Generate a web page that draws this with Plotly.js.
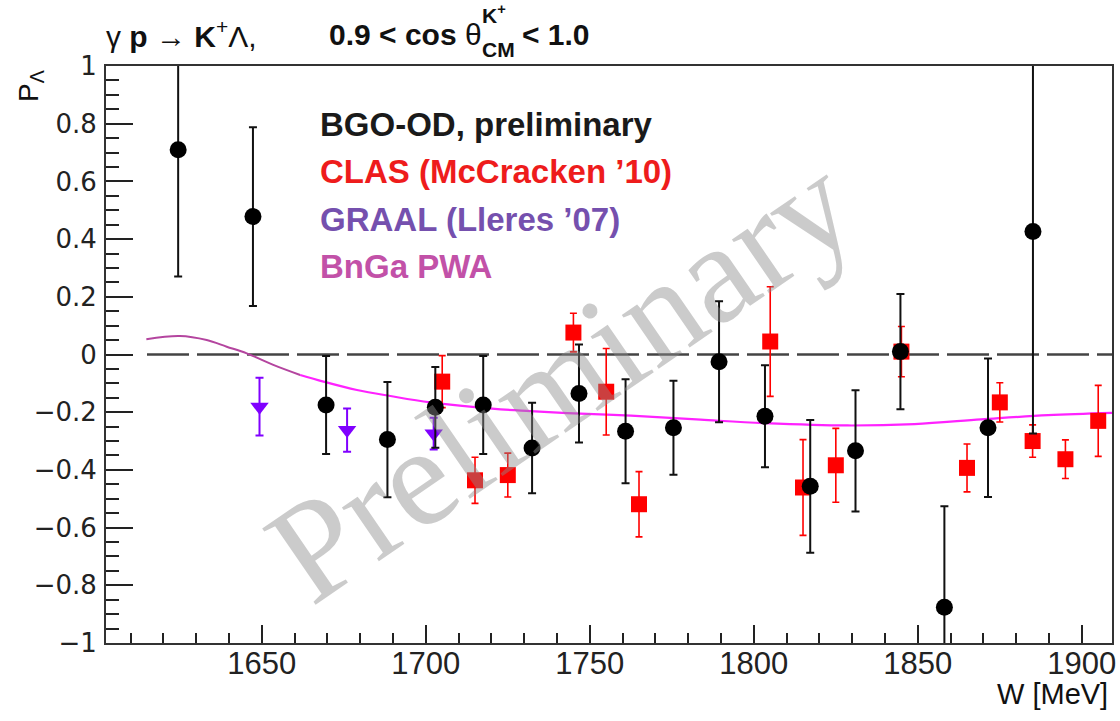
<!DOCTYPE html>
<html>
<head>
<meta charset="utf-8">
<script src="https://cdn.plot.ly/plotly-3.0.1.min.js"></script>
<style>
  html, body { margin: 0; padding: 0; background: #fff; }
  #plot { width: 1120px; height: 721px; }
</style>
</head>
<body>
<div id="plot"></div>
<script>
// Lambda recoil polarisation, gamma p -> K+ Lambda, forward bin 0.9 < cos(theta_CM) < 1.0

// BGO-OD (preliminary)
const bgoW   = [1624.5, 1647.3, 1669.6, 1688.3, 1702.9, 1717.5, 1732.4, 1746.7, 1760.9, 1775.5, 1789.4, 1803.4, 1817.2, 1831.0, 1844.7, 1858.1, 1871.4, 1885.1];
const bgoP   = [0.71, 0.478, -0.175, -0.295, -0.183, -0.175, -0.324, -0.135, -0.266, -0.254, -0.025, -0.214, -0.457, -0.334, 0.01, -0.876, -0.254, 0.426];
const bgoErr = [0.44, 0.31, 0.17, 0.20, 0.14, 0.17, 0.157, 0.17, 0.18, 0.163, 0.21, 0.177, 0.23, 0.21, 0.20, 0.35, 0.24, 0.70];

// CLAS (McCracken '10)
const clasW   = [1705, 1715, 1725, 1745, 1755, 1765, 1805, 1815, 1825, 1845, 1865, 1875, 1885, 1895, 1905];
const clasP   = [-0.094, -0.436, -0.418, 0.076, -0.129, -0.519, 0.045, -0.461, -0.384, 0.01, -0.393, -0.166, -0.30, -0.363, -0.23];
const clasErr = [0.09, 0.08, 0.076, 0.067, 0.15, 0.113, 0.19, 0.166, 0.128, 0.087, 0.083, 0.068, 0.056, 0.067, 0.123];

// GRAAL (Lleres '07)
const graalW   = [1649.3, 1676.0, 1702.4];
const graalP   = [-0.181, -0.262, -0.274];
const graalErr = [0.10, 0.075, 0.055];

// BnGa PWA curve
const bngaW = [1614.8, 1625, 1633.2, 1639.3, 1645.4, 1653.5, 1661.7, 1668.8, 1679, 1689.2, 1701.4, 1722.8, 1731.9, 1743.1, 1762.5, 1783.8, 1803.2, 1828.6, 1849, 1869.3, 1889.7, 1909.2];
const bngaP = [0.053, 0.064, 0.05, 0.027, 0.004, -0.036, -0.071, -0.094, -0.123, -0.144, -0.166, -0.19, -0.196, -0.203, -0.212, -0.226, -0.238, -0.246, -0.241, -0.225, -0.21, -0.202];
const bngaSplit = 1661.7;   // colour change of the drawn curve

// axis settings
const wRange = [1602.5, 1909.2];
const pRange = [-1, 1];
const zeroLineFrom = 1615;

const FONT = 'Liberation Sans, Arial, Helvetica, sans-serif';

function seg(cond) {
  const x = [], y = [];
  bngaW.forEach((w, i) => { if (cond(w)) { x.push(w); y.push(bngaP[i]); } });
  return { x, y };
}
const segA = seg(w => w <= bngaSplit);
const segB = seg(w => w >= bngaSplit);

const traces = [
  {
    x: segA.x, y: segA.y, type: 'scatter', mode: 'lines',
    line: { color: '#b4459f', width: 2, shape: 'spline' }, hoverinfo: 'skip'
  },
  {
    x: segB.x, y: segB.y, type: 'scatter', mode: 'lines',
    line: { color: '#ff22ff', width: 2.2, shape: 'spline' }, hoverinfo: 'skip'
  },
  {
    x: graalW, y: graalP, type: 'scatter', mode: 'markers',
    marker: { symbol: 'triangle-down', size: 16, color: '#8000ff' },
    error_y: { type: 'data', array: graalErr, visible: true, color: '#8000ff', thickness: 2, width: 4 }
  },
  {
    x: clasW, y: clasP, type: 'scatter', mode: 'markers',
    marker: { symbol: 'square', size: 16, color: '#ff0000' },
    error_y: { type: 'data', array: clasErr, visible: true, color: '#ff0000', thickness: 1.6, width: 3.5 }
  },
  {
    x: bgoW, y: bgoP, type: 'scatter', mode: 'markers',
    marker: { symbol: 'circle', size: 17, color: '#000000' },
    error_y: { type: 'data', array: bgoErr, visible: true, color: '#111111', thickness: 2, width: 4 }
  }
];

// paper-coordinate helpers (plot area: x 106..1112, y 66..643 px)
const px = v => (v - 106) / 1006;
const py = v => (643 - v) / 577;

const annotations = [
  // title pieces
  { xref: 'paper', yref: 'paper', x: px(104), y: py(34), xanchor: 'left', yanchor: 'middle', showarrow: false,
    text: 'γ <b>p</b> → <b>K</b><sup>+</sup>Λ,', font: { family: FONT, size: 30, color: '#111' } },
  { xref: 'paper', yref: 'paper', x: px(327), y: py(34), xanchor: 'left', yanchor: 'middle', showarrow: false,
    text: '<b>0.9 &lt; cos</b> θ', font: { family: FONT, size: 30, color: '#111' } },
  { xref: 'paper', yref: 'paper', x: px(480), y: py(14), xanchor: 'left', yanchor: 'middle', showarrow: false,
    text: '<b>K<sup>+</sup></b>', font: { family: FONT, size: 21, color: '#111' } },
  { xref: 'paper', yref: 'paper', x: px(480), y: py(49), xanchor: 'left', yanchor: 'middle', showarrow: false,
    text: '<b>CM</b>', font: { family: FONT, size: 21, color: '#111' } },
  { xref: 'paper', yref: 'paper', x: px(520), y: py(34), xanchor: 'left', yanchor: 'middle', showarrow: false,
    text: '<b>&lt; 1.0</b>', font: { family: FONT, size: 30, color: '#111' } },

  // axis titles
  { xref: 'paper', yref: 'paper', x: px(30), y: py(86), xanchor: 'center', yanchor: 'middle', showarrow: false,
    textangle: -90, text: 'P<sub>Λ</sub>', font: { family: FONT, size: 28, color: '#111' } },
  { xref: 'paper', yref: 'paper', x: px(1110), y: py(694), xanchor: 'right', yanchor: 'middle', showarrow: false,
    text: 'W [MeV]', font: { family: FONT, size: 29, color: '#111' } },

  // legend entries
  { xref: 'paper', yref: 'paper', x: px(318), y: py(124), xanchor: 'left', yanchor: 'middle', showarrow: false,
    text: '<b>BGO-OD, preliminary</b>', font: { family: FONT, size: 33, color: '#1a1a1a' } },
  { xref: 'paper', yref: 'paper', x: px(318), y: py(171), xanchor: 'left', yanchor: 'middle', showarrow: false,
    text: '<b>CLAS (McCracken ’10)</b>', font: { family: FONT, size: 33, color: '#ee1c1c' } },
  { xref: 'paper', yref: 'paper', x: px(318), y: py(219), xanchor: 'left', yanchor: 'middle', showarrow: false,
    text: '<b>GRAAL (Lleres ’07)</b>', font: { family: FONT, size: 33, color: '#7550ae' } },
  { xref: 'paper', yref: 'paper', x: px(318), y: py(266), xanchor: 'left', yanchor: 'middle', showarrow: false,
    text: '<b>BnGa PWA</b>', font: { family: FONT, size: 33, color: '#c251a8' } },

  // watermark
  { xref: 'x', yref: 'y', x: 1741, y: -0.08, xanchor: 'center', yanchor: 'middle', showarrow: false,
    textangle: -34.5, text: 'Preliminary',
    font: { family: 'Liberation Serif, Times New Roman, serif', size: 142, color: 'rgba(140,140,140,0.45)' } }
];

const layout = {
  width: 1120, height: 721,
  margin: { l: 106, r: 8, t: 66, b: 78, pad: 0 },
  paper_bgcolor: '#ffffff', plot_bgcolor: '#ffffff',
  showlegend: false,
  xaxis: {
    range: wRange, tick0: 1650, dtick: 50,
    ticks: 'inside', ticklen: 18, tickwidth: 2, tickcolor: '#222',
    minor: { dtick: 10, tick0: 1650, ticks: 'inside', ticklen: 10, tickwidth: 2, tickcolor: '#222', showgrid: false },
    showline: true, mirror: true, linecolor: '#333', linewidth: 2,
    showgrid: false, zeroline: false,
    tickfont: { family: FONT, size: 31, color: '#222' },
    ticklabelstandoff: -8
  },
  yaxis: {
    range: pRange, tick0: 0, dtick: 0.2,
    ticks: 'inside', ticklen: 27, tickwidth: 2, tickcolor: '#222',
    minor: { dtick: 0.05, tick0: 0, ticks: 'inside', ticklen: 13, tickwidth: 2, tickcolor: '#222', showgrid: false },
    showline: true, mirror: true, linecolor: '#333', linewidth: 2,
    showgrid: false, zeroline: false,
    tickfont: { family: 'DejaVu Sans, sans-serif', size: 26, color: '#222' },
    ticklabelstandoff: 2
  },
  shapes: [
    { type: 'line', xref: 'x', yref: 'y', x0: zeroLineFrom, x1: wRange[1], y0: 0, y1: 0,
      line: { color: '#444', width: 2.5, dash: '42px,8px' }, layer: 'below' }
  ],
  annotations: annotations
};

Plotly.newPlot('plot', traces, layout, { displayModeBar: false, staticPlot: true });
</script>
</body>
</html>
